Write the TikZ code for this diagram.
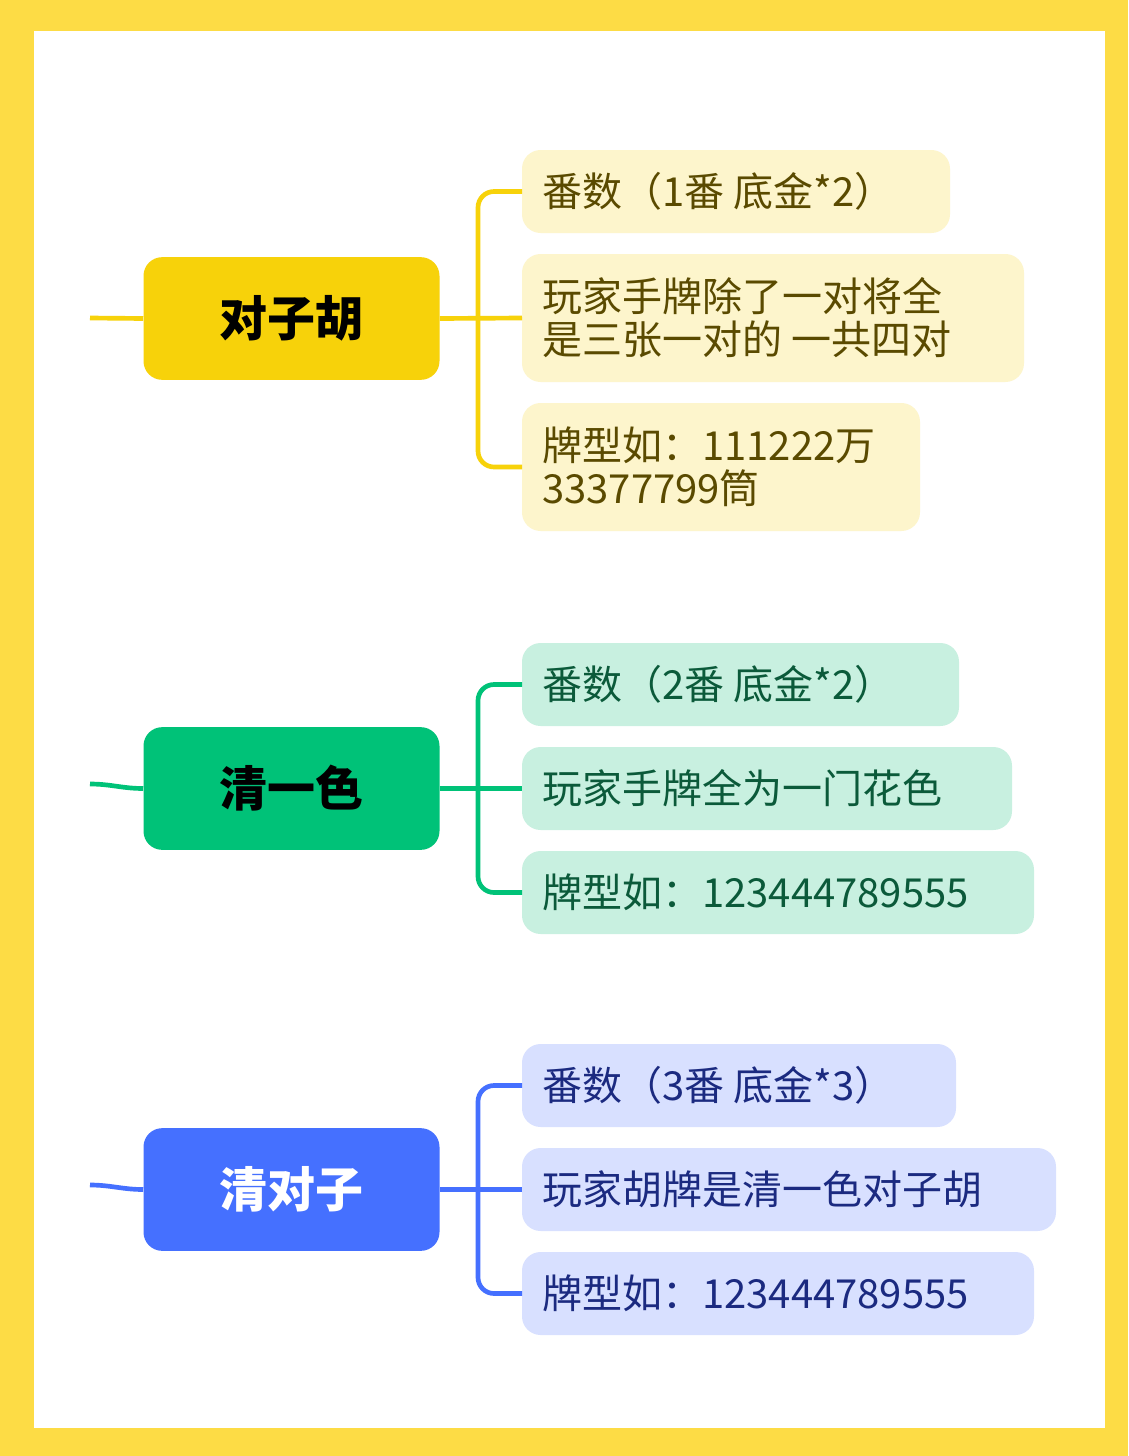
\documentclass[tikz,border=0pt]{standalone}
\usepackage{fontspec}
\setmainfont{Noto Sans CJK SC}
\usetikzlibrary{positioning}
\definecolor{framey}{HTML}{FDDC45}
\definecolor{ymain}{HTML}{F7D20A}
\definecolor{ysub}{HTML}{FDF5CC}
\definecolor{ytxt}{HTML}{5A4A00}
\definecolor{gmain}{HTML}{00C278}
\definecolor{gsub}{HTML}{C8F0E0}
\definecolor{gtxt}{HTML}{0B5A3A}
\definecolor{bmain}{HTML}{4570FF}
\definecolor{bsub}{HTML}{D8E0FF}
\definecolor{btxt}{HTML}{1B2A80}
\tikzset{
  topic/.style={rounded corners=14pt, minimum width=222pt, minimum height=92pt, font=\fontsize{36}{40}\selectfont\bfseries, inner sep=0pt},
  leaf/.style={rounded corners=14pt, anchor=north west, align=left, inner sep=0pt, text depth=0pt},
  branch/.style={line width=3.5pt, rounded corners=12pt}
}
\begin{document}
\begin{tikzpicture}[x=0.75pt,y=-0.75pt]
  % frame
  \fill[framey] (0,0) rectangle (1128,1456);
  \fill[white] (34,31) rectangle (1105,1428);
  \useasboundingbox (0,0) rectangle (1128,1456);

  % group macro: #1 name, #2 y-top of topic, #3 main colour, #4 sub colour, #5 text colour
  \newcommand{\leafbox}[7]{%
    \fill[#5, rounded corners=14pt] (522,#2) rectangle (#3,#4);
    \node[anchor=west, text=#6, font=\fontsize{30}{36}\selectfont, align=left, inner sep=0pt] (#1) at (542,{(#2+#4)/2}) {#7};
    \coordinate (#1in) at (522,{(#2+#4)/2});
  }

  % yellow group
  \node[topic, fill=ymain, text=black] (dzh) at (291.5,318.5) {对子胡};
  \leafbox{y1}{150}{950}{233}{ysub}{ytxt}{番数（1番 底金*2）}
  \leafbox{y2}{254}{1024}{382}{ysub}{ytxt}{玩家手牌除了一对将全\\[-4pt]是三张一对的 一共四对}
  \leafbox{y3}{403}{920}{531}{ysub}{ytxt}{牌型如：111222万\\[-4pt]33377799筒}
  \coordinate (yl) at (90,318);
  \draw[branch, ymain] (yl) -- (dzh.west);
  \draw[branch, ymain] (dzh.east) -- (y2in);
  \draw[branch, ymain] (y1in) -| (478,318) |- (y3in);

  % green group
  \node[topic, fill=gmain, text=black] (qys) at (291.5,788.5) {清一色};
  \leafbox{g1}{643}{959}{726}{gsub}{gtxt}{番数（2番 底金*2）}
  \leafbox{g2}{747}{1012}{830}{gsub}{gtxt}{玩家手牌全为一门花色}
  \leafbox{g3}{851}{1034}{934}{gsub}{gtxt}{牌型如：123444789555}
  \coordinate (gl) at (90,784);
  \draw[branch, gmain] (gl) to[out=0,in=180] (qys.west);
  \draw[branch, gmain] (qys.east) -- (g2in);
  \draw[branch, gmain] (g1in) -| (478,788) |- (g3in);

  % blue group
  \node[topic, fill=bmain, text=white] (qdz) at (291.5,1189.5) {清对子};
  \leafbox{b1}{1044}{956}{1127}{bsub}{btxt}{番数（3番 底金*3）}
  \leafbox{b2}{1148}{1056}{1231}{bsub}{btxt}{玩家胡牌是清一色对子胡}
  \leafbox{b3}{1252}{1034}{1335}{bsub}{btxt}{牌型如：123444789555}
  \coordinate (bl) at (90,1185);
  \draw[branch, bmain] (bl) to[out=0,in=180] (qdz.west);
  \draw[branch, bmain] (qdz.east) -- (b2in);
  \draw[branch, bmain] (b1in) -| (478,1189) |- (b3in);
\end{tikzpicture}
\end{document}
